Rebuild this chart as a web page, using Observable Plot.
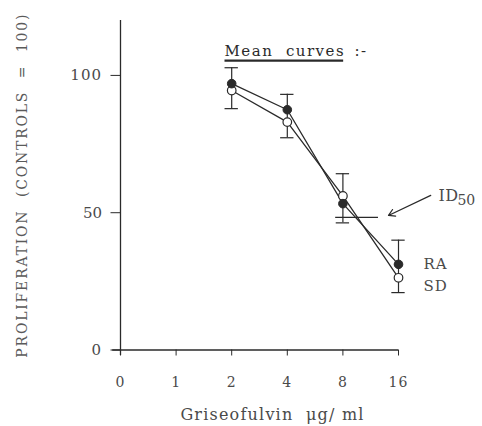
<!DOCTYPE html>
<html><head><meta charset="utf-8">
<script src="https://cdn.jsdelivr.net/npm/d3@7"></script>
<script src="https://cdn.jsdelivr.net/npm/@observablehq/plot@0.6"></script>
<style>body{margin:0;background:#fff} svg{display:block}</style>
</head><body><div id="chart"></div>
<script>
// x axis: doses shown at equal spacing
const xTickLabels = [0, 1, 2, 4, 8, 16];
const doses = [2, 4, 8, 16];
const raValues = [97, 87.5, 53.3, 31.2];
const sdValues = [94.5, 83, 56.1, 26.3];
const errHigh = [102.8, 93.1, 64.2, 40];
const errLow = [87.9, 77.3, 46.3, 20.9];
const yTicks = [0, 50, 100];
const id50Level = 48.3;
const seriesNames = ["RA", "SD"];

const pos = d => xTickLabels.indexOf(d);
const ra = doses.map((d, i) => ({i: pos(d), v: raValues[i]}));
const sd = doses.map((d, i) => ({i: pos(d), v: sdValues[i]}));
const errs = doses.map((d, i) => ({i: pos(d), lo: errLow[i], hi: errHigh[i]}));

const ink = "#2a2a2a";
const textCol = "#4a4a4a";
const font = "DejaVu Serif";

const plot = Plot.plot({
  width: 482, height: 426,
  marginLeft: 120, marginRight: 84, marginTop: 20, marginBottom: 76.5,
  style: {fontFamily: font, background: "#fff", color: textCol},
  x: {domain: [0, 5], axis: null},
  y: {domain: [0, 120], axis: null},
  marks: [
    Plot.axisY({ticks: yTicks, tickSize: 9.5, tickPadding: 9, fontSize: 15, label: null, stroke: ink, fill: textCol}),
    Plot.axisX({ticks: xTickLabels.map((_, i) => i), tickFormat: i => String(xTickLabels[i]), tickSize: 6, tickPadding: 21, fontSize: 14, label: null, stroke: ink, fill: textCol}),
    Plot.ruleX([0], {y1: -2, y2: 120, stroke: ink, strokeWidth: 1.3}),
    Plot.ruleY([0], {x1: -0.14, x2: 5, stroke: ink, strokeWidth: 1.6}),
    // error bars
    Plot.ruleX(errs, {x: "i", y1: "lo", y2: "hi", stroke: ink, strokeWidth: 1.2}),
    Plot.ruleY(errs, {y: "hi", x1: d => d.i - 0.12, x2: d => d.i + 0.12, stroke: ink, strokeWidth: 1.2}),
    Plot.ruleY(errs, {y: "lo", x1: d => d.i - 0.12, x2: d => d.i + 0.12, stroke: ink, strokeWidth: 1.2}),
    // ID50 bar
    Plot.ruleY([id50Level], {x1: 3.87, x2: 4.64, stroke: ink, strokeWidth: 1.2}),
    Plot.arrow([{x1: 5.58, y1: 56.3, x2: 4.82, y2: 49.0}], {x1: "x1", y1: "y1", x2: "x2", y2: "y2", stroke: ink, strokeWidth: 1.2, headLength: 9, bend: false}),
    // lines
    Plot.line(ra, {x: "i", y: "v", stroke: ink, strokeWidth: 1.3}),
    Plot.line(sd, {x: "i", y: "v", stroke: ink, strokeWidth: 1.3}),
    Plot.dot(sd, {x: "i", y: "v", r: 4.3, fill: "#fff", stroke: ink, strokeWidth: 1.2}),
    Plot.dot(ra, {x: "i", y: "v", r: 4.3, fill: ink, stroke: ink, strokeWidth: 1}),
    // series labels
    Plot.text([ra[ra.length - 1]], {x: "i", y: "v", text: () => seriesNames[0], dx: 25, textAnchor: "start", fontSize: 15, fill: textCol}),
    Plot.text([sd[sd.length - 1]], {x: "i", y: "v", text: () => seriesNames[1], dx: 25, dy: 8, textAnchor: "start", fontSize: 15, fill: textCol}),
    // ID50 label
    Plot.text(["ID"], {x: 5.72, y: 54.4, text: d => d, textAnchor: "start", lineAnchor: "bottom", fontSize: 16, fill: textCol}),
    Plot.text(["50"], {x: 6.06, y: 52.8, text: d => d, textAnchor: "start", lineAnchor: "bottom", fontSize: 14, fill: textCol}),
    // title
    Plot.text(["Mean  curves"], {frameAnchor: "top-left", dx: 104, dy: 25, text: d => d, textAnchor: "start", fontSize: 15, fill: ink}),
    Plot.text([":-"], {frameAnchor: "top-left", dx: 234, dy: 25, text: d => d, textAnchor: "start", fontSize: 15, fill: ink}),
    // axis labels
    Plot.text(["PROLIFERATION  (CONTROLS  =  100)"], {frameAnchor: "left", dx: -98, rotate: -90, textAnchor: "middle", text: d => d, fontSize: 14, fill: "#5a5a5a"}),
    Plot.text(["Griseofulvin  \u03bcg/ ml"], {frameAnchor: "bottom", dx: 13, dy: 70, text: d => d, fontSize: 16, fill: textCol})
  ]
});
document.getElementById("chart").appendChild(plot);
const sp = {
  "PROLIFERATION  (CONTROLS  =  100)": 1.8,
  "Griseofulvin  \u03bcg/ ml": 1.2,
  "Mean  curves": 1.5,
  ":-": 1.5,
  "RA": 1, "SD": 1, "ID": 0.5
};
d3.select(plot).selectAll("text").each(function() {
  const s = sp[this.textContent];
  if (s != null) this.setAttribute("letter-spacing", s);
  else if (/^\d+$/.test(this.textContent) && this.textContent !== "50") this.setAttribute("letter-spacing", 1);
});
// underline "Mean curves"
const t = d3.select(plot).selectAll("text").filter(function() { return this.textContent === "Mean  curves"; }).node();
if (t) {
  const b = t.getBBox();
  d3.select(t.parentNode).append("line")
    .attr("transform", t.getAttribute("transform"))
    .attr("x1", b.x).attr("x2", b.x + b.width - 2)
    .attr("y1", b.y + b.height + 0.5).attr("y2", b.y + b.height + 0.5)
    .attr("stroke", ink).attr("stroke-width", 2.4);
}
</script></body></html>
